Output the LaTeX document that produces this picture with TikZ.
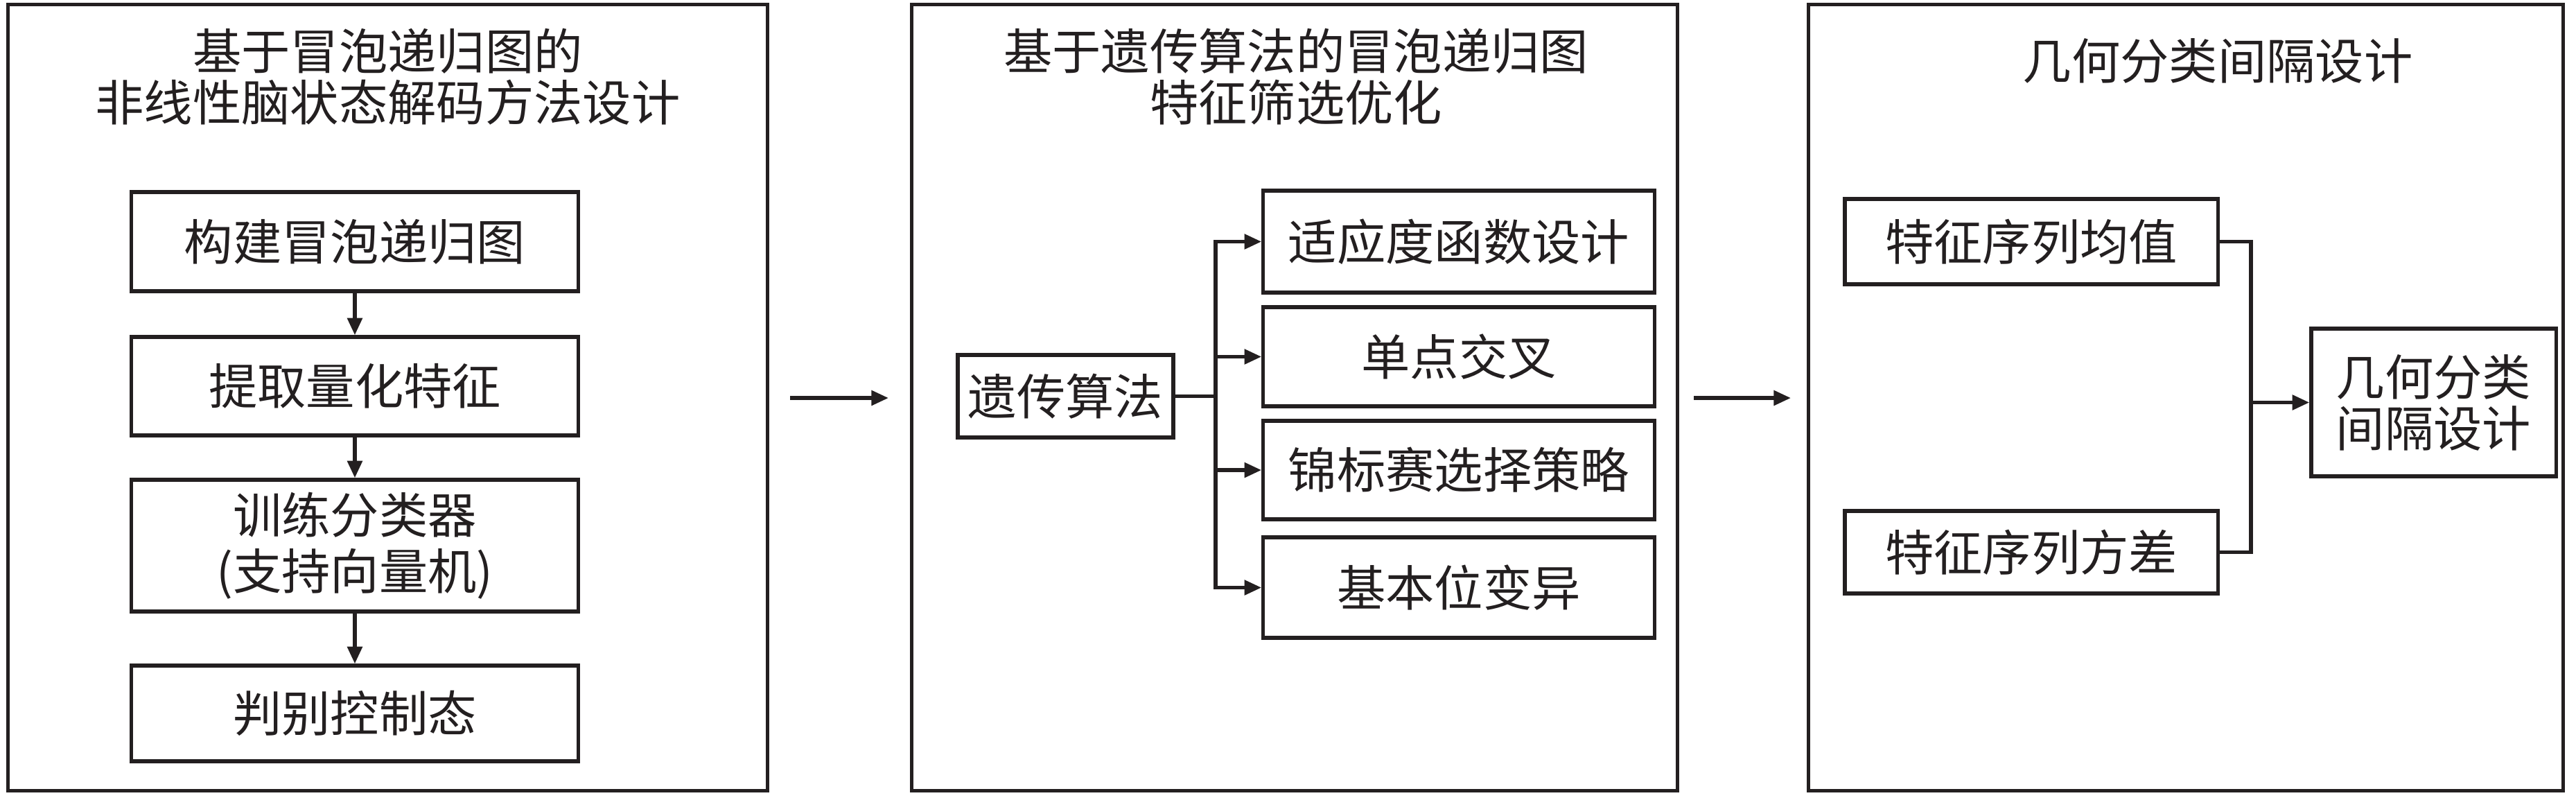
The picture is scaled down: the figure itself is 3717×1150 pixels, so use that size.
\documentclass[tikz,border=0pt]{standalone}
\usepackage{fontspec}
\newfontfamily\cjk{Noto Sans CJK SC}
\usetikzlibrary{arrows.meta,calc}
\definecolor{ink}{HTML}{231F20}
\tikzset{
  panel/.style={draw=ink, line width=1.5pt, inner sep=0pt},
  box/.style={draw=ink, line width=1.5pt, inner sep=0pt, align=center,
    font=\cjk\fontsize{20pt}{23pt}\selectfont, text=ink},
  ttl/.style={align=center, font=\cjk\fontsize{20pt}{21pt}\selectfont, text=ink, inner sep=0pt},
  conn/.style={draw=ink, line width=1.5pt},
  arr/.style={conn, -{Triangle[length=7pt,width=6pt]}},
}
\begin{document}
\begin{tikzpicture}[x=0.01cm, y=-0.01cm]
\useasboundingbox (0,0) rectangle (3717,1150);
% panels
\node[panel, minimum width=10.95cm, minimum height=11.33cm] (pL) at (559.5,573.5) {};
\node[panel, minimum width=11.04cm, minimum height=11.33cm] (pM) at (1868,573.5) {};
\node[panel, minimum width=10.88cm, minimum height=11.33cm] (pR) at (3154,573.5) {};
% titles
\node[ttl] (tL) at (559.5,111) {基于冒泡递归图的\\非线性脑状态解码方法设计};
\node[ttl] (tM) at (1870,111) {基于遗传算法的冒泡递归图\\特征筛选优化};
\node[ttl] (tR) at (3200,88) {几何分类间隔设计};
% left column
\node[box, minimum width=6.44cm, minimum height=1.43cm] (b1) at (512,348.5) {构建冒泡递归图};
\node[box, minimum width=6.44cm, minimum height=1.42cm] (b2) at (512,557) {提取量化特征};
\node[box, minimum width=6.44cm, minimum height=1.90cm] (b3) at (512,787) {训练分类器\\(支持向量机)};
\node[box, minimum width=6.44cm, minimum height=1.38cm] (b4) at (512,1029) {判别控制态};
\draw[arr] (b1) -- (b2);
\draw[arr] (b2) -- (b3);
\draw[arr] (b3) -- (b4);
% middle
\node[box, minimum width=3.11cm, minimum height=1.19cm] (ga) at (1537.5,571.5) {遗传算法};
\node[box, minimum width=5.64cm, minimum height=1.47cm] (r1) at (2105,348.5) {适应度函数设计};
\node[box, minimum width=5.64cm, minimum height=1.43cm] (r2) at (2105,514.5) {单点交叉};
\node[box, minimum width=5.64cm, minimum height=1.42cm] (r3) at (2105,678) {锦标赛选择策略};
\node[box, minimum width=5.64cm, minimum height=1.45cm] (r4) at (2105,847.5) {基本位变异};
\coordinate (br) at (1754,571.5);
\draw[conn] (ga.east) -- (br);
\draw[conn, line cap=rect] (br |- r1.west) -- (br |- r4.west);
\draw[arr] (br |- r1.west) -- (r1.west);
\draw[arr] (br |- r2.west) -- (r2.west);
\draw[arr] (br |- r3.west) -- (r3.west);
\draw[arr] (br |- r4.west) -- (r4.west);
% right
\node[box, minimum width=5.38cm, minimum height=1.23cm] (m1) at (2931,348.5) {特征序列均值};
\node[box, minimum width=5.38cm, minimum height=1.19cm] (m2) at (2931,796.5) {特征序列方差};
\node[box, minimum width=3.53cm, minimum height=2.13cm, font=\cjk\fontsize{20pt}{21pt}\selectfont] (gm) at (3511.5,580.5) {几何分类\\间隔设计};
\coordinate (jn) at (3248,580.5);
\draw[conn] (m1.east) -| (jn);
\draw[conn] (m2.east) -| (jn);
\draw[arr] (jn) -- (gm.west);
% between panels
\coordinate (a1s) at (1140,574);
\coordinate (a1e) at (1282,574);
\coordinate (a2s) at (2444,574);
\coordinate (a2e) at (2584,574);
\draw[arr] (a1s) -- (a1e);
\draw[arr] (a2s) -- (a2e);
\end{tikzpicture}
\end{document}
